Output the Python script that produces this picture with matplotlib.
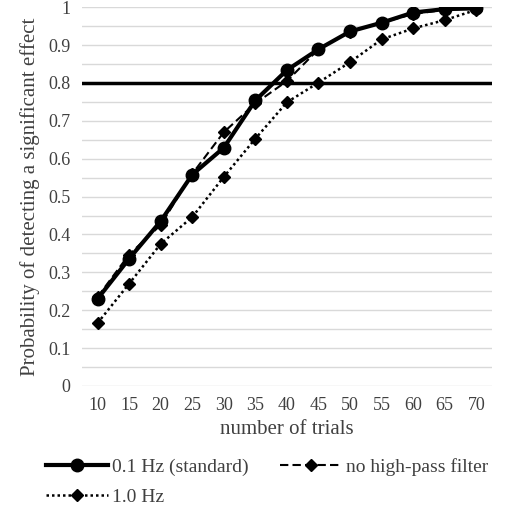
import matplotlib.pyplot as plt
from matplotlib.ticker import MultipleLocator, FuncFormatter

trials = [10, 15, 20, 25, 30, 35, 40, 45, 50, 55, 60, 65, 70]
hz_01 = [0.230, 0.336, 0.435, 0.558, 0.629, 0.754, 0.834, 0.889, 0.936, 0.959, 0.986, 0.995, 0.997]
no_hp = [0.235, 0.347, 0.425, 0.560, 0.670, 0.746, 0.805, 0.889, 0.935, 0.959, 0.982, 0.993, 0.997]
hz_10 = [0.166, 0.270, 0.375, 0.446, 0.552, 0.653, 0.749, 0.801, 0.855, 0.915, 0.944, 0.966, 0.993]
threshold = 0.8

plt.rcParams['font.family'] = ['Liberation Serif', 'DejaVu Serif']


def fmt(v, _):
    v = round(v, 2)
    if v == 0 or v == 1:
        return '%d' % v
    return '%.1f' % v


fig = plt.figure(figsize=(5.11, 5.15), dpi=100)
ax = fig.add_axes([0.160, 0.2505, 0.803, 0.7355])

pos = list(range(len(trials)))
l1, = ax.plot(pos, hz_01, color='black', lw=3, marker='o', ms=9, label='0.1 Hz (standard)', zorder=4)
l2, = ax.plot(pos, no_hp, color='black', lw=1.5, ls=(0, (4, 2)), marker='D', ms=6.5, label='no high-pass filter', zorder=3)
l3, = ax.plot(pos, hz_10, color='black', lw=1.8, ls=(0, (1, 1.2)), marker='D', ms=6.5, label='1.0 Hz', zorder=3)
ax.axhline(threshold, color='black', lw=2.5, zorder=2)

ax.set_xlim(-0.5, len(trials) - 0.5)
ax.set_ylim(0, 1)
ax.set_xticks(pos)
ax.set_xticklabels([str(t) for t in trials])
ax.yaxis.set_major_locator(MultipleLocator(0.1))
ax.yaxis.set_minor_locator(MultipleLocator(0.05))
ax.yaxis.set_major_formatter(FuncFormatter(fmt))
ax.grid(axis='y', which='both', color='#d9d9d9', lw=1)
ax.set_axisbelow(True)
for s in ax.spines.values():
    s.set_visible(False)
ax.tick_params(which='both', length=0, labelsize=13, colors='#404040', pad=8)
ax.set_xlabel('number of trials', fontsize=15, color='#404040', labelpad=4)
ax.set_ylabel('Probability of detecting a significant effect', fontsize=15, color='#404040', labelpad=6)

fig.legend([l1, l3, l2], [l1.get_label(), l3.get_label(), l2.get_label()],
           loc='upper left', bbox_to_anchor=(0.075, 0.125), ncol=2, frameon=False,
           fontsize=14, handlelength=3.2, handletextpad=0.2, columnspacing=1.6,
           labelspacing=0.6, borderaxespad=0, labelcolor='#404040')

fig.savefig('out.png', dpi=100)
